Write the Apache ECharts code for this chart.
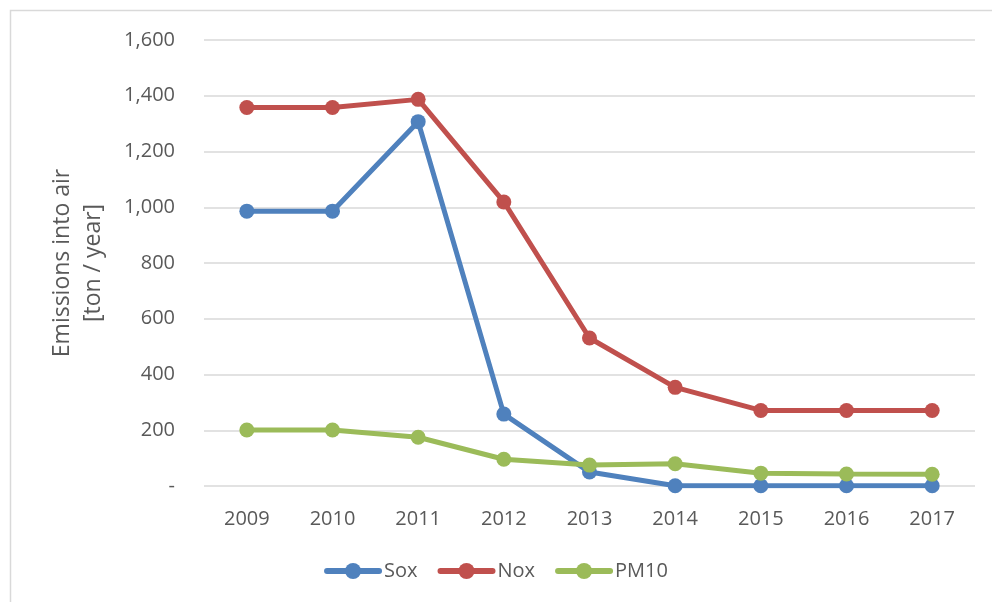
<!DOCTYPE html>
<html>
<head>
<meta charset="utf-8">
<script src="https://cdn.jsdelivr.net/npm/echarts@6/dist/echarts.min.js"></script>
<style>html,body{margin:0;padding:0;background:#fff}#c{width:992px;height:602px}</style>
</head>
<body>
<div id="c"></div>
<script>
var categories = ['2009','2010','2011','2012','2013','2014','2015','2016','2017'];
var sox = [986, 986, 1307, 258, 50, 1, 1, 1, 1];
var nox = [1358, 1358, 1387, 1019, 531, 354, 271, 271, 271];
var pm10 = [201, 201, 175, 96, 75, 80, 46, 43, 42];
var seriesNames = ['Sox', 'Nox', 'PM10'];
var colors = ['#4F81BD', '#C0504D', '#9BBB59'];
var yTicks = { min: 0, max: 1600, interval: 200 };
var yAxisName = 'Emissions into air\n[ton / year]';

var font = "'Open Sans', 'Noto Sans', sans-serif";
var chart = echarts.init(document.getElementById('c'), null, { renderer: 'canvas' });
function mk(name, data, color) {
  return {
    name: name, type: 'line', data: data,
    symbol: 'circle', symbolSize: 15,
    lineStyle: { width: 5, color: color },
    itemStyle: { color: color },
    emphasis: { disabled: true },
    animation: false
  };
}
chart.setOption({
  animation: false,
  graphic: [{
    type: 'rect', shape: { x: 10.5, y: 10.5, width: 990, height: 600 },
    style: { fill: 'none', stroke: '#D9D9D9', lineWidth: 1.5 }, silent: true
  }, {
    type: 'text', x: 78, y: 263, rotation: Math.PI / 2, silent: true,
    style: {
      text: yAxisName, fontFamily: font, fontSize: 23, fill: '#595959',
      lineHeight: 31, align: 'center', verticalAlign: 'middle'
    }
  }],
  grid: { left: 204, right: 17, top: 40, bottom: 116 },
  legend: {
    bottom: 16, left: 'center', itemWidth: 52, itemHeight: 20, itemGap: 20,
    lineStyle: { width: 6, cap: 'round' },
    textStyle: { fontFamily: font, fontSize: 20, color: '#595959' },
    data: seriesNames
  },
  xAxis: {
    type: 'category', data: categories, boundaryGap: true,
    axisLine: { show: false }, axisTick: { show: false },
    axisLabel: { fontFamily: font, fontSize: 20, color: '#595959', margin: 23 }
  },
  yAxis: {
    type: 'value', min: yTicks.min, max: yTicks.max, interval: yTicks.interval,
    axisLine: { show: false }, axisTick: { show: false },
    splitLine: { lineStyle: { color: '#D9D9D9', width: 1.5 } },
    axisLabel: {
      fontFamily: font, fontSize: 20, color: '#595959', margin: 29,
      formatter: function (v) { return v === 0 ? '-' : v.toLocaleString('en-US'); }
    }
  },
  series: [mk(seriesNames[0], sox, colors[0]), mk(seriesNames[1], nox, colors[1]), mk(seriesNames[2], pm10, colors[2])]
});
</script>
</body>
</html>
